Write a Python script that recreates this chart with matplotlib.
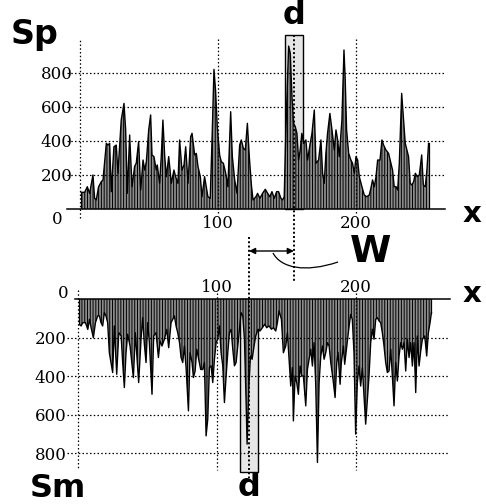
import matplotlib
matplotlib.use("Agg")
import matplotlib.pyplot as plt
import matplotlib.transforms as mtrans
from matplotlib.patches import Rectangle, PathPatch
from matplotlib.path import Path

# ---------------- data ----------------
sp_x = [1.0, 3.4, 5.3, 7.0, 9.4, 10.6, 11.8, 13.5, 15.5, 16.7, 19.1, 20.3, 21.5, 22.7, 24.6,
        26.3, 27.5, 29.9, 31.9, 33.1, 34.3, 36.0, 37.7, 39.6, 40.8, 42.5, 44.0, 45.7, 46.9, 48.1,
        49.8, 51.2, 52.2, 53.6, 55.3, 56.0, 57.7, 58.9, 60.1, 61.4, 62.6, 64.3, 66.2, 68.1, 69.3,
        71.0, 72.2, 73.9, 75.4, 76.6, 78.3, 80.2, 81.2, 83.1, 84.3, 85.5, 87.2, 88.4, 90.3, 91.5,
        92.7, 94.4, 95.9, 97.1, 98.3, 99.5, 101.2, 102.4, 103.9, 105.6, 107.2, 109.2, 110.4, 112.1, 113.8,
        115.7, 116.9, 118.4, 119.8, 121.3, 122.7, 124.2, 125.4,
        127.5, 128.7, 130.4, 132.3, 134.3, 136.0, 137.6, 139.1, 140.8, 142.5,
        143.9, 145.6, 146.8, 148.0, 149.2, 151.2, 152.4, 153.6, 154.8, 156.0,
        157.2, 158.4, 159.6, 160.8, 162.0, 163.7, 164.9, 166.6, 168.1, 169.8,
        171.0, 172.9, 174.6, 175.8, 177.0, 178.2, 179.4, 181.1, 182.6, 184.3,
        185.5, 186.7, 187.9, 189.8, 191.3, 192.2, 193.2, 194.7, 196.3, 197.5,
        198.8, 200.0, 201.2, 202.4, 204.3, 206.0, 207.7, 209.6, 210.8, 212.0,
        213.3, 214.5, 215.7, 217.4, 218.8, 220.0, 221.7, 223.6, 225.3, 226.5,
        227.7, 229.0, 230.2, 231.4, 233.1, 234.3, 235.7, 236.9, 238.1, 239.3,
        240.5, 241.8, 243.0, 244.4, 245.9, 247.6, 248.8, 250.2, 251.4, 252.6]
sp_v = [98, 98, 131, 92, 200, 63, 53, 131, 161, 171, 386, 376, 386, 102, 366,
        376, 210, 523, 621, 465, 92, 435, 131, 250, 270, 396, 112, 288, 229, 278,
        465, 553, 318, 308, 229, 259, 151, 308, 523, 308, 190, 308, 151, 229, 190,
        151, 406, 229, 259, 366, 151, 425, 445, 318, 327, 250, 190, 72, 190, 131,
        72, 63, 465, 821, 690, 484, 318, 278, 269, 210, 131, 572, 308, 171, 92,
        376, 406, 357, 347, 504, 308, 141, 53,
        72, 92, 63, 92, 116, 92, 72, 102, 63, 102,
        102, 63, 53, 72, 465, 958, 915, 660, 504, 484,
        445, 288, 347, 445, 386, 406, 288, 376, 445, 582,
        269, 288, 406, 210, 151, 327, 445, 562, 465, 347,
        465, 406, 308, 523, 935, 759, 465, 327, 288, 269,
        210, 308, 288, 190, 131, 82, 72, 82, 122, 171,
        131, 190, 288, 288, 406, 376, 347, 327, 269, 229,
        131, 131, 112, 269, 680, 543, 386, 347, 308, 151,
        141, 161, 210, 190, 200, 318, 141, 131, 229, 386]

sm_x = [1.0, 2.2, 3.4, 5.3, 7.0, 8.2, 9.4, 11.0, 12.5, 14.1, 15.4, 16.5, 17.7, 18.9, 20.1,
        21.3, 22.5, 23.7, 24.9, 26.1, 27.8, 29.3, 31.0, 32.1, 33.3, 34.5, 35.7, 37.4, 38.8, 39.8,
        41.2, 42.4, 43.6, 45.3, 46.5, 47.7, 48.9, 50.1, 51.3, 53.2, 54.4, 56.1, 57.8, 59.0, 60.4,
        62.1, 63.8, 65.2, 66.9, 68.1, 69.3, 70.5, 71.7, 73.0, 74.1, 75.3, 76.5, 77.7, 79.4, 80.6,
        82.0, 83.0, 84.2, 85.4, 86.8, 88.2, 89.7, 90.9, 92.1, 93.3, 94.5, 95.7, 96.9, 98.1, 99.3,
        100.5, 101.7, 102.9, 104.1, 105.3, 106.5, 107.7, 108.9, 110.1, 111.3, 112.5, 113.7, 114.9, 116.1, 117.3,
        118.5, 119.7, 120.9, 121.6, 122.8, 124.0, 125.2,
        126.6, 127.8, 129.5, 130.9, 132.6, 134.3, 135.7, 137.4, 139.1, 140.5,
        142.2, 143.4, 144.6, 146.3, 147.7, 149.4, 150.6, 151.8, 153.0, 154.2,
        154.9, 156.1, 157.3, 158.5, 159.7, 160.9, 162.1, 163.8, 165.0, 166.2,
        167.4, 168.6, 169.8, 171.0, 172.2, 173.4, 174.6, 175.8, 177.0, 178.2,
        179.4, 180.6, 181.8, 183.4, 184.9, 186.1, 187.0, 188.5, 189.4, 190.9,
        191.8, 193.3, 195.0, 196.1, 197.3, 198.5, 199.7, 200.9, 202.1, 203.3,
        204.5, 205.7, 206.9, 208.1, 209.3, 210.5, 211.7, 212.9, 214.1, 215.3,
        216.5, 217.7, 218.9, 220.1, 221.3, 222.5, 223.7, 224.9, 226.1, 227.3,
        228.5, 229.7, 230.9, 232.1, 233.3, 234.5, 235.7, 236.9, 238.1, 239.3,
        240.5, 241.7, 242.9, 244.1, 245.3, 246.5, 247.7, 249.4, 250.8, 252.0,
        253.2, 254.2]
sm_v = [132, 140, 123, 123, 158, 106, 149, 201, 123, 88, 88, 123, 140, 71, 88,
        123, 279, 330, 382, 140, 391, 175, 192, 330, 460, 279, 183, 244, 339, 408,
        175, 301, 434, 209, 97, 235, 330, 123, 227, 495, 192, 175, 304, 218, 244,
        209, 158, 253, 123, 106, 88, 140, 175, 227, 304, 330, 244, 356, 581, 279,
        330, 408, 374, 261, 313, 366, 366, 330, 711, 624, 356, 347, 434, 313, 227,
        209, 140, 279, 347, 538, 400, 279, 175, 158, 261, 347, 330, 244, 158, 71,
        88, 209, 538, 754, 469, 296, 313,
        244, 192, 157, 166, 149, 131, 149, 140, 157, 149,
        166, 123, 62, 106, 279, 244, 175, 313, 452, 356,
        633, 400, 434, 495, 348, 400, 400, 555, 365, 313,
        261, 348, 227, 451, 849, 434, 296, 244, 313, 278,
        227, 244, 330, 417, 512, 330, 278, 443, 330, 244,
        339, 244, 140, 80, 106, 279, 702, 434, 348, 452,
        356, 503, 650, 521, 400, 227, 157, 209, 106, 97,
        114, 123, 175, 244, 330, 382, 374, 261, 400, 555,
        330, 426, 296, 227, 261, 227, 374, 209, 304, 227,
        348, 227, 486, 192, 348, 270, 209, 192, 296, 175,
        123, 71]

x_ticks = [100, 200]
x_grid = [0, 100, 200]
y_ticks = [200, 400, 600, 800]

d_top_x = 155       # position d in Sp
d_bot_x = 123       # position d in Sm
d_half = 6.7        # half width of window
top_box_h = 1025
bot_box_h = 899

# ---------------- figure ----------------
plt.rcParams['hatch.linewidth'] = 0.7
W_PX, H_PX = 486, 504
fig = plt.figure(figsize=(W_PX / 100, H_PX / 100), dpi=100)

serif = dict(family='DejaVu Serif', size=12)
boldsans = dict(family='DejaVu Sans', weight='bold')
dot = (0, (1.2, 1.8))

def fpos(l, t, r, b):
    return [l / W_PX, 1 - b / H_PX, (r - l) / W_PX, (b - t) / H_PX]

ax_t = fig.add_axes(fpos(67, 34, 445, 209))
ax_b = fig.add_axes(fpos(75, 299, 452, 474))
ov = fig.add_axes([0, 0, 1, 1], zorder=10)
ov.set_xlim(0, W_PX)
ov.set_ylim(H_PX, 0)
ov.axis('off')
ov.patch.set_alpha(0)

ax_t.set_xlim(-9.4, 264.5)
ax_t.set_ylim(0, 1029)
ax_b.set_xlim(-2.2, 269)
ax_b.set_ylim(909, 0)

for ax in (ax_t, ax_b):
    for s in ax.spines.values():
        s.set_visible(False)
    ax.patch.set_alpha(0)
    ax.tick_params(length=0)

# window rectangles
ax_t.add_patch(Rectangle((d_top_x - d_half, 0), 2 * d_half, top_box_h, facecolor='#e6e6e6',
                         edgecolor='black', lw=1.0, zorder=1, clip_on=False))
ax_b.add_patch(Rectangle((d_bot_x - d_half, 0), 2 * d_half, bot_box_h, facecolor='#e6e6e6',
                         edgecolor='black', lw=1.0, zorder=1, clip_on=False))

# signals
for ax, xs, vs in ((ax_t, sp_x, sp_v), (ax_b, sm_x, sm_v)):
    ax.fill_between(xs, 0, vs, facecolor='#8c8c8c', edgecolor='black', hatch='||||||',
                    linewidth=0, zorder=2)
    ax.plot(xs, vs, color='black', lw=1.0, zorder=2.5)
    ax.plot([xs[0], xs[0]], [0, vs[0]], color='black', lw=0.9, zorder=2.5)
    ax.plot([xs[-1], xs[-1]], [0, vs[-1]], color='black', lw=0.9, zorder=2.5)

# grids
tb_t = mtrans.blended_transform_factory(ax_t.transAxes, ax_t.transData)
tb_b = mtrans.blended_transform_factory(ax_b.transAxes, ax_b.transData)
for v in y_ticks:
    ax_t.plot([0, 1], [v, v], transform=tb_t, color='black', lw=0.9, ls=dot, zorder=3, clip_on=False)
    ax_b.plot([-0.021, 0.99], [v, v], transform=tb_b, color='black', lw=0.9, ls=dot, zorder=3, clip_on=False)
for g in x_grid:
    ax_t.plot([g, g], [-50 if g == 0 else -22, 1000], color='black', lw=0.9, ls=dot, zorder=3, clip_on=False)
    ax_b.plot([g, g], [-45 if g == 0 else -30, 888], color='black', lw=0.9, ls=dot, zorder=3, clip_on=False)

# axis lines
ax_t.plot([0, 1], [0, 0], transform=tb_t, color='black', lw=1.1, zorder=4, clip_on=False)
ax_b.plot([0, 0.995], [0, 0], transform=tb_b, color='black', lw=1.1, zorder=4, clip_on=False)

# tick labels
ax_t.set_xticks(x_ticks)
ax_t.set_xticklabels([str(t) for t in x_ticks], **serif)
ax_t.tick_params(axis='x', pad=4)
ax_t.set_yticks(y_ticks)
ax_t.set_yticklabels([str(t) for t in y_ticks], **serif)
ax_t.tick_params(axis='y', pad=-4)

ax_b.xaxis.tick_top()
ax_b.set_xticks(x_ticks)
ax_b.set_xticklabels([str(t) for t in x_ticks], **serif)
ax_b.tick_params(axis='x', pad=2)
ax_b.set_yticks(y_ticks)
ax_b.set_yticklabels([str(t) for t in y_ticks], **serif)
ax_b.tick_params(axis='y', pad=6)

ov.text(57, 220, '0', ha='center', va='center', **serif)
ov.text(63, 294, '0', ha='center', va='center', **serif)

# pixel x of the window lines
fig.canvas.draw()
px_top = ax_t.transData.transform((d_top_x, 0))[0]
px_bot = ax_b.transData.transform((d_bot_x, 0))[0]

ov.plot([px_top, px_top], [35, 282], color='black', lw=1.4, ls=(0, (1, 1.2)))
ov.plot([px_bot, px_bot], [237, 478], color='black', lw=1.4, ls=(0, (1, 1.2)))

# W arrow
ov.annotate('', xy=(px_top, 251), xytext=(px_bot, 251),
            arrowprops=dict(arrowstyle='<|-|>', lw=1.0, color='black',
                            mutation_scale=9, shrinkA=0, shrinkB=0))
curve = Path([(273, 253), (281, 268), (305, 273), (338, 262)],
             [Path.MOVETO, Path.CURVE4, Path.CURVE4, Path.CURVE4])
ov.add_patch(PathPatch(curve, facecolor='none', edgecolor='black', lw=0.9))

# big labels
ov.text(35, 44, 'Sp', ha='center', va='baseline', size=24, **boldsans)
ov.text(58, 497, 'Sm', ha='center', va='baseline', size=23, **boldsans)
ov.text(px_top, 15, 'd', ha='center', va='center', size=23, **boldsans)
ov.text(px_bot, 487, 'd', ha='center', va='center', size=23, **boldsans)
ov.text(371, 252, 'W', ha='center', va='center', size=27, **boldsans)
ov.text(472, 214, 'x', ha='center', va='center', size=21, **boldsans)
ov.text(472, 294, 'x', ha='center', va='center', size=21, **boldsans)

fig.savefig('out.png', dpi=100)
